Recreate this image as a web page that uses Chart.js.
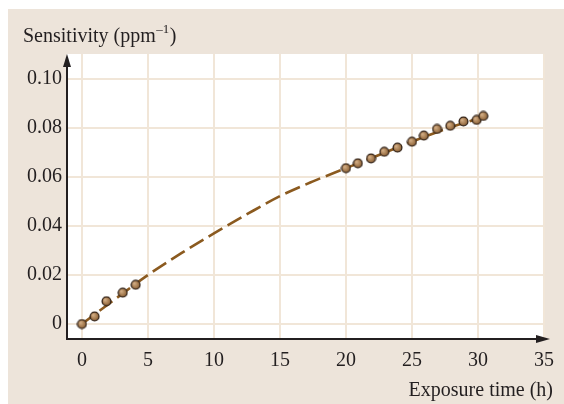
<!DOCTYPE html>
<html lang="en">
<head>
  <meta charset="UTF-8">
  <title>Sensitivity vs exposure time</title>
  <script src="https://cdn.jsdelivr.net/npm/chart.js"></script>
  <style>
    body { margin: 0; background: white; }
    .container { width: 564px; height: 404px; }
  </style>
</head>
<body>
  <div class="container">
    <canvas id="chart" width="564" height="404"></canvas>
  </div>
  <script>
    // measured points
    const pointHours = [0, 0.96, 1.86, 3.09, 4.07, 20, 20.9, 21.9, 22.9, 23.9, 25, 25.9, 26.9, 27.9, 28.9, 29.9, 30.4];
    const pointSens = [0, 0.0031, 0.0093, 0.0128, 0.016, 0.0636, 0.0656, 0.0676, 0.0703, 0.072, 0.0744, 0.0769, 0.0796, 0.0809, 0.0827, 0.0833, 0.0849];

    // dashed fitted curve
    const curveHours = [0, 2.5, 5, 7.5, 10, 12.5, 15, 17.5, 20, 22.5, 25, 27.5, 30, 30.5];
    const curveSens = [0, 0.0101, 0.02, 0.0288, 0.037, 0.0448, 0.0522, 0.0582, 0.0636, 0.069, 0.0744, 0.0795, 0.0838, 0.0846];

    const xTicks = [0, 5, 10, 15, 20, 25, 30, 35];
    const yTicks = [0, 0.02, 0.04, 0.06, 0.08, 0.10];
    const yTickLabels = ["0", "0.02", "0.04", "0.06", "0.08", "0.10"];

    const FONT = "'Liberation Serif', 'Times New Roman', serif";
    const BEIGE = "#ede4da";
    const GRID = "#f1e6d8";
    const INK = "#231f20";

    // little shaded ball used as marker
    function makeBall() {
      const c = document.createElement("canvas");
      c.width = 11; c.height = 11;
      const g = c.getContext("2d");
      const grad = g.createRadialGradient(4, 4, 0.5, 5.5, 5.5, 5);
      grad.addColorStop(0, "#d2ad85");
      grad.addColorStop(0.6, "#a47a4e");
      grad.addColorStop(1, "#7a5430");
      g.beginPath();
      g.arc(5.5, 5.5, 4.4, 0, Math.PI * 2);
      g.fillStyle = grad;
      g.fill();
      g.lineWidth = 1.3;
      g.strokeStyle = "#35251a";
      g.stroke();
      return c;
    }

    const frame = {
      id: "frame",
      beforeDraw(chart) {
        const { ctx, chartArea: a } = chart;
        ctx.save();
        ctx.fillStyle = BEIGE;
        ctx.fillRect(8, 9, chart.width - 8, chart.height - 9);
        ctx.fillStyle = "#ffffff";
        ctx.fillRect(a.left, a.top, a.right - a.left, a.bottom - a.top);
        ctx.restore();
      },
      afterDraw(chart) {
        const { ctx, chartArea: a } = chart;
        ctx.save();
        ctx.strokeStyle = INK;
        ctx.fillStyle = INK;
        ctx.lineWidth = 2;
        // y axis with arrow
        ctx.beginPath();
        ctx.moveTo(a.left, a.bottom + 1);
        ctx.lineTo(a.left, a.top + 10);
        ctx.stroke();
        ctx.beginPath();
        ctx.moveTo(a.left, a.top);
        ctx.lineTo(a.left - 4, a.top + 13);
        ctx.lineTo(a.left + 4, a.top + 13);
        ctx.closePath();
        ctx.fill();
        // x axis with arrow
        ctx.beginPath();
        ctx.moveTo(a.left - 1, a.bottom);
        ctx.lineTo(a.right - 2, a.bottom);
        ctx.stroke();
        ctx.beginPath();
        ctx.moveTo(a.right + 6, a.bottom);
        ctx.lineTo(a.right - 8, a.bottom - 4);
        ctx.lineTo(a.right - 8, a.bottom + 4);
        ctx.closePath();
        ctx.fill();

        // axis titles
        ctx.font = "20px " + FONT;
        ctx.textBaseline = "alphabetic";
        ctx.textAlign = "left";
        const t1 = "Sensitivity (ppm";
        ctx.fillText(t1, 23, 42);
        let x = 23 + ctx.measureText(t1).width;
        ctx.font = "13px " + FONT;
        ctx.fillText("\u20131", x + 0.5, 33);
        x += ctx.measureText("\u20131").width + 1;
        ctx.font = "20px " + FONT;
        ctx.fillText(")", x, 42);

        ctx.textAlign = "right";
        ctx.fillText("Exposure time (h)", 553, 396);
        ctx.restore();
      }
    };

    new Chart(document.getElementById("chart").getContext("2d"), {
      type: "scatter",
      data: {
        datasets: [
          {
            label: "Measured",
            data: pointHours.map((h, i) => ({ x: h, y: pointSens[i] })),
            pointStyle: makeBall(),
            pointRadius: 5,
            showLine: false
          },
          {
            label: "Fit",
            data: curveHours.map((h, i) => ({ x: h, y: curveSens[i] })),
            showLine: true,
            pointRadius: 0,
            borderColor: "#8b5a1f",
            borderWidth: 2.6,
            borderDash: [16, 6],
            cubicInterpolationMode: "monotone"
          }
        ]
      },
      options: {
        responsive: false,
        animation: false,
        layout: { padding: { left: 0, top: 54, right: 19, bottom: 0 } },
        plugins: { legend: { display: false }, tooltip: { enabled: false } },
        scales: {
          x: {
            type: "linear",
            min: -1.13,
            max: 35,
            afterBuildTicks: (s) => { s.ticks = xTicks.map((v) => ({ value: v })); },
            afterFit: (s) => { s.height = 65; },
            grid: { color: GRID, lineWidth: 2, drawTicks: false },
            border: { display: false },
            ticks: {
              padding: 10,
              color: INK,
              font: { family: FONT, size: 20 },
              maxRotation: 0,
              callback: (v) => String(v)
            }
          },
          y: {
            type: "linear",
            min: -0.00612,
            max: 0.1102,
            afterBuildTicks: (s) => { s.ticks = yTicks.map((v) => ({ value: v })); },
            afterFit: (s) => { s.width = 67; },
            grid: { color: GRID, lineWidth: 2, drawTicks: false },
            border: { display: false },
            ticks: {
              padding: 5,
              color: INK,
              font: { family: FONT, size: 20 },
              callback: (v) => {
                const i = yTicks.findIndex((t) => Math.abs(t - v) < 1e-9);
                return i >= 0 ? yTickLabels[i] : "";
              }
            }
          }
        }
      },
      plugins: [frame]
    });
  </script>
</body>
</html>
